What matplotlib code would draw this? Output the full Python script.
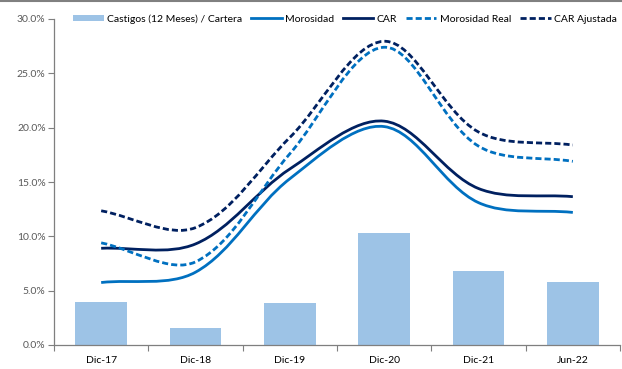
import numpy as np
import matplotlib
matplotlib.use('Agg')
import matplotlib.pyplot as plt
from matplotlib.path import Path
from matplotlib.patches import PathPatch
from matplotlib.lines import Line2D
from matplotlib.ticker import FuncFormatter, FixedLocator

categorias = ['Dic-17', 'Dic-18', 'Dic-19', 'Dic-20', 'Dic-21', 'Jun-22']
castigos = [4.0, 1.55, 3.85, 10.3, 6.8, 5.8]
morosidad = [5.75, 6.7, 15.3, 20.1, 13.1, 12.2]
car = [8.9, 9.3, 16.2, 20.6, 14.4, 13.65]
morosidad_real = [9.4, 7.65, 17.6, 27.4, 18.3, 16.9]
car_ajustada = [12.35, 10.8, 19.1, 27.95, 19.6, 18.4]

AZUL = '#0070C0'
NAVY = '#002060'
CELESTE = '#9DC3E6'

plt.rcParams['font.family'] = ['Lato', 'DejaVu Sans']
NARROW = ['Liberation Sans Narrow', 'Lato', 'DejaVu Sans']


def smooth_path(ax, xs, ys):
    # curva suavizada: Bezier con tangentes ponderadas por la longitud de cada tramo en pantalla
    pts = ax.transData.transform(np.column_stack([xs, ys]).astype(float))
    n = len(pts)
    d = [np.hypot(*(pts[i + 1] - pts[i])) for i in range(n - 1)]
    verts = [pts[0]]
    codes = [Path.MOVETO]
    for i in range(n - 1):
        p1, p2 = pts[i], pts[i + 1]
        if i > 0:
            c1 = p1 + (p2 - pts[i - 1]) / 3.0 * d[i] / (d[i - 1] + d[i])
        else:
            c1 = p1 + (p2 - p1) / 3.0
        if i < n - 2:
            c2 = p2 - (pts[i + 2] - p1) / 3.0 * d[i] / (d[i] + d[i + 1])
        else:
            c2 = p2 - (p2 - p1) / 3.0
        verts += [c1, c2, p2]
        codes += [Path.CURVE4] * 3
    verts = ax.transData.inverted().transform(np.array(verts))
    return Path(verts, codes)


fig = plt.figure(figsize=(6.22, 3.69), dpi=100)
ax = fig.add_axes([54 / 622, 24 / 369, 566 / 622, 326 / 369])

x = np.arange(len(categorias))
ax.set_xlim(-0.5, len(categorias) - 0.5)
ax.set_ylim(0, 30)

ax.bar(x, castigos, width=0.55, color=CELESTE, zorder=1)

DASH = (0, (2.2, 1.1))
series = [
    (morosidad, AZUL, '-'),
    (car, NAVY, '-'),
    (morosidad_real, AZUL, DASH),
    (car_ajustada, NAVY, DASH),
]
for vals, col, ls in series:
    patch = PathPatch(smooth_path(ax, x, vals), facecolor='none', edgecolor=col,
                      linewidth=2.0, linestyle=ls, capstyle='butt', zorder=3)
    ax.add_patch(patch)

ax.set_yticks(np.arange(0, 31, 5))
ax.yaxis.set_major_formatter(FuncFormatter(lambda v, p: '{:.1f}%'.format(v)))
ax.set_xticks(x)
ax.set_xticklabels(categorias)
ax.xaxis.set_minor_locator(FixedLocator(np.arange(-0.5, len(categorias), 1.0)))

for side in ['top', 'right']:
    ax.spines[side].set_visible(False)
for side in ['left', 'bottom']:
    ax.spines[side].set_color('#7F7F7F')
    ax.spines[side].set_linewidth(0.9)

ax.tick_params(axis='y', direction='out', length=4, width=0.8, color='#7F7F7F',
               labelsize=7.5, labelcolor='#595959', pad=2)
ax.tick_params(axis='x', which='major', length=0, labelsize=7.5,
               labelcolor='#000000', pad=8)
ax.tick_params(axis='x', which='minor', direction='out', length=4, width=0.8,
               color='#7F7F7F')

handles = [
    plt.Rectangle((0, 0), 1, 1, facecolor=CELESTE, edgecolor='none'),
    Line2D([], [], color=AZUL, lw=2.0),
    Line2D([], [], color=NAVY, lw=2.0),
    Line2D([], [], color=AZUL, lw=2.0, ls=DASH),
    Line2D([], [], color=NAVY, lw=2.0, ls=DASH),
]
labels = ['Castigos (12 Meses) / Cartera', 'Morosidad', 'CAR', 'Morosidad Real', 'CAR Ajustada']
fig.legend(handles, labels, loc='center', bbox_to_anchor=(345 / 622, 1 - 19 / 369),
           ncol=5, frameon=False, handlelength=2.9, handleheight=0.6,
           handletextpad=0.3, columnspacing=0.9, labelcolor='#000000',
           prop={'family': NARROW, 'size': 7.5})

# borde superior del recuadro
fig.add_artist(Line2D([0, 1], [0.998, 0.998], color='#808080', lw=1.5,
                      transform=fig.transFigure))

fig.savefig('out.png', dpi=100)
